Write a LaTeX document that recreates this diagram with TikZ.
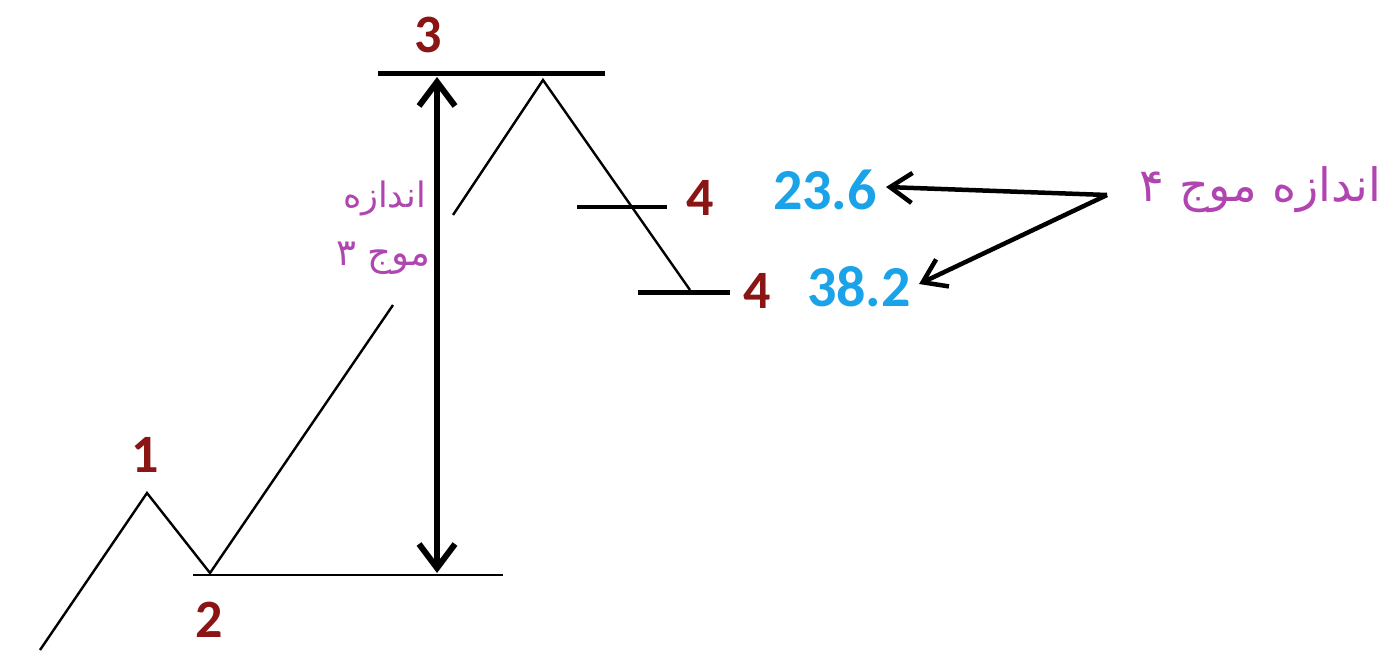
\documentclass[tikz,border=0pt]{standalone}
\usepackage{fontspec}
\setmainfont{Carlito}
\newfontfamily\farsi[Script=Arabic]{DejaVu Sans}
\TeXXeTstate=1
\usetikzlibrary{arrows.meta}
\definecolor{wred}{HTML}{8B1414}
\definecolor{wblue}{HTML}{1AA3E8}
\definecolor{wpurple}{HTML}{B044B0}
\tikzset{
  wave/.style={line width=2.4pt, black},
  level/.style={line width=5pt, black},
  lbl/.style={font=\bfseries\fontsize{54}{54}\selectfont, text=wred, inner sep=0pt},
  pct/.style={font=\bfseries\fontsize{58}{58}\selectfont, text=wblue, inner sep=0pt},
  fa/.style={text=wpurple, inner sep=0pt},
  arr/.style={line width=4.5pt, -{Straight Barb[length=22pt,width=30pt]}},
  darr/.style={line width=6pt, {Straight Barb[length=24pt,width=36pt]}-{Straight Barb[length=24pt,width=36pt]}}
}
\begin{document}
\begin{tikzpicture}[x=1pt,y=-1pt]
\useasboundingbox (0,0) rectangle (1384,653);
\fill[white] (0,0) rectangle (1384,653);
% wave path
\coordinate (w0) at (40,650);
\coordinate (w1) at (147,493);
\coordinate (w2) at (210,573);
\coordinate (w3a) at (393,305);
\coordinate (w3b) at (453,215);
\coordinate (w3) at (543,80);
\coordinate (w4) at (690,290);
\draw[wave] (w0) -- (w1) -- (w2) -- (w3a);
\draw[wave] (w3b) -- (w3) -- (w4);
% levels
\coordinate (b0) at (193,575); \coordinate (b1) at (503,575);
\draw[line width=2.2pt] (b0) -- (b1);
\coordinate (t0) at (378,73); \coordinate (t1) at (605,73);
\draw[level] (t0) -- (t1);
\coordinate (f0) at (577,207); \coordinate (f1) at (667,207);
\draw[line width=3.5pt] (f0) -- (f1);
\coordinate (g0) at (638,292); \coordinate (g1) at (730,292);
\draw[level] (g0) -- (g1);
% double arrow
\coordinate (dtop) at (437,77);
\coordinate (dbot) at (437,573);
\draw[darr] (dtop) -- (dbot);
% labels
\node[lbl] (l3) at (428,35) {3};
\node[lbl] (l1) at (145,455) {1};
\node[lbl] (l2) at (209,620) {2};
\node[lbl] (l4a) at (700,198) {4};
\node[lbl] (l4b) at (757,291) {4};
\node[pct] (p23) at (825,190) {23.6};
\node[pct] (p38) at (859,287) {38.2};
% persian text
\node[fa, anchor=east, font=\farsi\fontsize{46}{46}\selectfont] (fa4) at (1381,190) {\beginR اندازه موج ۴\endR};
\node[fa, anchor=east, font=\farsi\fontsize{35}{35}\selectfont] (fa3a) at (426,198) {\beginR اندازه\endR};
\node[fa, anchor=east, font=\farsi\fontsize{37}{37}\selectfont] (fa3b) at (431,258) {\beginR موج ۳\endR};
% arrows
\coordinate (src) at (1107,195);
\draw[arr] (src) -- ([xshift=9pt,yshift=3pt]p23.east);
\draw[arr] (src) -- ([xshift=8pt,yshift=3pt]p38.east);
\end{tikzpicture}
\end{document}
